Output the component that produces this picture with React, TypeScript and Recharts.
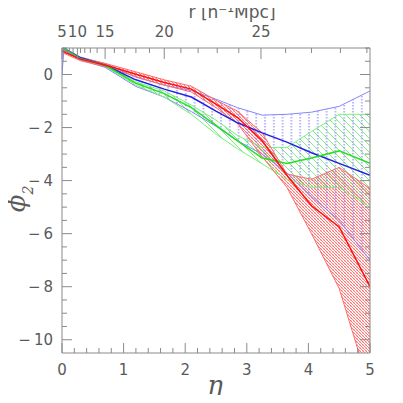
import React from 'react';
import { ComposedChart, Area, Line, XAxis, YAxis } from 'recharts';

// ---- data (eta nodes and series values) ----
const etaNodes = [0, 0.03, 0.3, 0.7, 1.2, 1.66, 2.1, 2.5, 2.85, 3.25, 3.65, 4.05, 4.5, 5];

const redMid = [0.9, 0.86, 0.58, 0.36, 0.01, -0.3, -0.55, -1.12, -1.62, -2.5, -3.8, -4.95, -5.75, -8.0];
const redHi = [0.97, 0.93, 0.64, 0.42, 0.1, -0.2, -0.44, -0.97, -1.38, -2.2, -3.75, -3.95, -3.5, -4.3];
const redLo = [0.85, 0.8, 0.52, 0.3, -0.08, -0.4, -0.66, -1.25, -1.85, -3.1, -4.25, -6.0, -8.07, -11.85];

const greenMid = [1.0, 0.97, 0.6, 0.35, -0.33, -0.72, -1.25, -1.92, -2.5, -3.15, -3.35, -3.15, -2.88, -3.35];
const greenHi = [1.0, 0.98, 0.62, 0.38, -0.28, -0.62, -1.15, -1.72, -2.3, -2.75, -2.75, -2.15, -1.5, -1.5];
const greenLo = [1.0, 0.96, 0.58, 0.31, -0.4, -0.85, -1.5, -2.25, -2.8, -3.37, -3.95, -4.25, -4.26, -5.0];

const blueMid = [1.0, 0.98, 0.63, 0.35, -0.2, -0.55, -0.85, -1.38, -1.82, -2.2, -2.55, -2.95, -3.35, -3.8];
const blueHi = [1.0, 1.0, 0.66, 0.41, -0.1, -0.4, -0.6, -0.93, -1.25, -1.53, -1.5, -1.42, -1.2, -0.62];
const blueLo = [0.0, 0.9, 0.55, 0.27, -0.45, -0.85, -1.4, -1.95, -2.5, -3.0, -3.7, -4.6, -5.5, -7.0];

// ---- ticks ----
const yTickValues = [-10, -9.5, -9, -8.5, -8, -7.5, -7, -6.5, -6, -5.5, -5, -4.5, -4, -3.5, -3, -2.5, -2, -1.5, -1, -0.5, 0, 0.5, 1];
const yTickLabels = [-10, -8, -6, -4, -2, 0];
const etaTickValues = [0, 0.2, 0.4, 0.6, 0.8, 1, 1.2, 1.4, 1.6, 1.8, 2, 2.2, 2.4, 2.6, 2.8, 3, 3.2, 3.4, 3.6, 3.8, 4, 4.2, 4.4, 4.6, 4.8, 5];
const etaTickLabels = [0, 1, 2, 3, 4, 5];
const rTickValues = [5, 6, 7, 8, 9, 10, 11, 12, 13, 14, 15, 16, 17, 18, 19, 20, 21, 22, 23, 24, 25, 26, 27, 28, 29];
const rTickEta = [0, 0.03, 0.07, 0.12, 0.18, 0.25, 0.3, 0.37, 0.46, 0.57, 0.7, 0.85, 1.02, 1.2, 1.42, 1.66, 1.93, 2.21, 2.52, 2.87, 3.23, 3.63, 4.05, 4.52, 4.95];
const rTickLabels = [5, 10, 15, 20, 25];

const data = etaNodes.map((eta, i) => ({
  eta,
  redMid: redMid[i],
  redHi: redHi[i],
  redLo: redLo[i],
  redBand: [redLo[i], redHi[i]],
  greenMid: greenMid[i],
  greenHi: greenHi[i],
  greenLo: greenLo[i],
  greenBand: [greenLo[i], greenHi[i]],
  blueMid: blueMid[i],
  blueHi: blueHi[i],
  blueLo: blueLo[i],
  blueBand: [blueLo[i], blueHi[i]],
}));

const AXIS = '#8a8a8a';
const TEXT = '#5a5a5a';
const FONT = '"DejaVu Sans", "Liberation Sans", sans-serif';
const SERIF = '"DejaVu Serif", serif';
const FS = 15;

const fmt = (v: number) => (v < 0 ? '\u2212\u2009' + Math.abs(v) : String(v));

const LeftTick = (props: any) => {
  const { x, y, payload, index } = props;
  const v = payload.value;
  const major = yTickLabels.includes(v);
  return (
    <g>
      <line x1={x} x2={x + (major ? 10 : 5)} y1={y} y2={y} stroke={AXIS} strokeWidth={1} />
      {major && (
        <text x={x - 9} y={y} dy={5} textAnchor="end" fill={TEXT} fontFamily={FONT} fontSize={FS}>
          {fmt(v)}
        </text>
      )}
      {index === 0 && (
        <text
          x={0}
          y={0}
          transform="translate(25 199) rotate(-90)"
          textAnchor="middle"
          fill={TEXT}
          fontFamily={SERIF}
          fontStyle="italic"
          fontSize={26}
        >
          ϕ<tspan fontSize={14} dy={8}>2</tspan>
        </text>
      )}
    </g>
  );
};

const RightTick = (props: any) => {
  const { x, y, payload } = props;
  const v = payload.value;
  const major = yTickLabels.includes(v);
  return <line x1={x} x2={x - (major ? 10 : 5)} y1={y} y2={y} stroke={AXIS} strokeWidth={1} />;
};

const BottomTick = (props: any) => {
  const { x, y, payload } = props;
  const v = payload.value;
  const major = etaTickLabels.includes(v);
  return (
    <g>
      <line x1={x} x2={x} y1={y} y2={y - (major ? 10 : 5)} stroke={AXIS} strokeWidth={1} />
      {major && (
        <text x={x} y={y + 22} textAnchor="middle" fill={TEXT} fontFamily={FONT} fontSize={FS}>
          {fmt(v)}
        </text>
      )}
    </g>
  );
};

const TopTick = (props: any) => {
  const { x, y, index } = props;
  const r = rTickValues[index];
  const major = rTickLabels.includes(r);
  return (
    <g>
      <line x1={x} x2={x} y1={y} y2={y + (major ? 11 : 5)} stroke={AXIS} strokeWidth={1} />
      {major && (
        <text x={x} y={y - 11} textAnchor="middle" fill={TEXT} fontFamily={FONT} fontSize={FS}>
          {r}
        </text>
      )}
    </g>
  );
};

const TopTitle = () => (
  <text x={232} y={18} textAnchor="middle" fill={TEXT} fontFamily={FONT} fontSize={17}>
    r [h⁻¹Mpc]
  </text>
);

const BottomTitle = () => (
  <text x={215} y={394} textAnchor="middle" fill={TEXT} fontFamily={SERIF} fontStyle="italic" fontSize={26}>
    η
  </text>
);

const common = {
  xAxisId: 'bottom',
  yAxisId: 'left',
  type: 'linear' as const,
  isAnimationActive: false,
  dot: false,
  activeDot: false,
};

export default function App() {
  return (
    <div style={{ width: 403, height: 403, margin: -8 }}>
      <ComposedChart width={403} height={403} data={data} margin={{ top: 0, right: 32, bottom: 0, left: 0 }}>
        <defs>
          <pattern id="redHatch" patternUnits="userSpaceOnUse" width={3} height={3}>
            <path d="M0,0 L3,3 M-1,2 L1,4 M2,-1 L4,1" stroke="#ff3a3a" strokeWidth={0.7} />
            <path d="M3,0 L0,3 M-1,1 L1,-1 M2,4 L4,2" stroke="#ff8a8a" strokeWidth={0.45} />
          </pattern>
          <pattern id="greenHatch" patternUnits="userSpaceOnUse" width={7} height={7}>
            <path d="M0,0 L7,7 M-1,6 L1,8 M6,-1 L8,1" stroke="#5ee85e" strokeWidth={0.8} />
          </pattern>
          <pattern id="blueHatch" patternUnits="userSpaceOnUse" width={8.8} height={3}>
            <line x1={1} x2={1} y1={0} y2={1.5} stroke="#7373ff" strokeWidth={1} />
          </pattern>
        </defs>
        <XAxis
          xAxisId="bottom"
          orientation="bottom"
          type="number"
          dataKey="eta"
          domain={[0, 5]}
          ticks={etaTickValues}
          interval={0}
          height={50}
          tickSize={0}
          tickMargin={0}
          tickLine={false}
          tick={(p: any) => <BottomTick {...p} />}
          axisLine={{ stroke: AXIS }}
          allowDataOverflow
          label={<BottomTitle />}
        />
        <XAxis
          xAxisId="top"
          orientation="top"
          type="number"
          dataKey="eta"
          domain={[0, 5]}
          ticks={rTickEta}
          interval={0}
          height={48}
          tickSize={0}
          tickMargin={0}
          tickLine={false}
          tick={(p: any) => <TopTick {...p} />}
          axisLine={{ stroke: AXIS }}
          allowDataOverflow
          label={<TopTitle />}
        />
        <YAxis
          yAxisId="left"
          orientation="left"
          type="number"
          domain={[-10.5, 1]}
          ticks={yTickValues}
          interval={0}
          width={62}
          tickSize={0}
          tickMargin={0}
          tickLine={false}
          tick={(p: any) => <LeftTick {...p} />}
          axisLine={{ stroke: AXIS }}
          allowDataOverflow
        />
        <YAxis
          yAxisId="right"
          orientation="right"
          type="number"
          domain={[-10.5, 1]}
          ticks={yTickValues}
          interval={0}
          width={1}
          tickSize={0}
          tickMargin={0}
          tickLine={false}
          tick={(p: any) => <RightTick {...p} />}
          axisLine={{ stroke: AXIS }}
          allowDataOverflow
        />

        <Area {...common} dataKey="redBand" fill="url(#redHatch)" fillOpacity={1} stroke="none" />
        <Area {...common} dataKey="greenBand" fill="url(#greenHatch)" fillOpacity={1} stroke="none" />
        <Area {...common} dataKey="blueBand" fill="url(#blueHatch)" fillOpacity={1} stroke="none" />

        <Line {...common} dataKey="blueHi" stroke="#8585ff" strokeWidth={1} />
        <Line {...common} dataKey="blueLo" stroke="#8585ff" strokeWidth={1} />
        <Line {...common} dataKey="greenHi" stroke="#7cf07c" strokeWidth={1} />
        <Line {...common} dataKey="greenLo" stroke="#7cf07c" strokeWidth={1} />
        <Line {...common} dataKey="redHi" stroke="#ff6a6a" strokeWidth={1} />
        <Line {...common} dataKey="redLo" stroke="#ff6a6a" strokeWidth={1} />

        <Line {...common} dataKey="blueMid" stroke="#1f1fe6" strokeWidth={1.5} />
        <Line {...common} dataKey="greenMid" stroke="#22e022" strokeWidth={1.5} />
        <Line {...common} dataKey="redMid" stroke="#ff1010" strokeWidth={1.5} />
      </ComposedChart>
    </div>
  );
}
